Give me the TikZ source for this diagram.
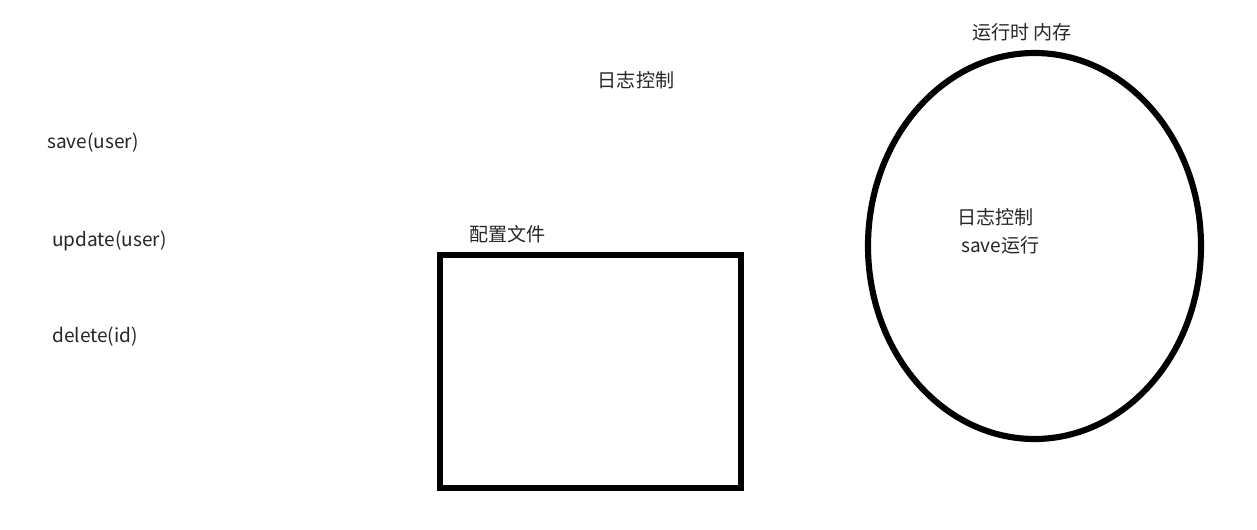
\documentclass[tikz,border=0pt]{standalone}
\usepackage{fontspec}
\setmainfont{Noto Sans CJK SC}
\usetikzlibrary{shapes.geometric}
\begin{document}
\begin{tikzpicture}[x=0.75pt,y=-0.75pt,
  lbl/.style={inner sep=0pt,font=\fontsize{14.3pt}{17pt}\selectfont,text=black!85},
  thick line/.style={line width=4.6pt,draw=black,inner sep=0pt,outer sep=0pt}]
\useasboundingbox[fill=white] (0,0) rectangle (1257,530);
\node[lbl] (log) at (636,80) {日志控制};
\node[lbl] (mem) at (1022,32) {运行时 内存};
\node[lbl,anchor=west] (save) at (47,143) {save(user)};
\node[lbl,anchor=west] (update) at (52,241) {update(user)};
\node[lbl,anchor=west] (delete) at (52,337) {delete(id)};
\node[lbl,anchor=west] (cfg) at (469,234) {配置文件};
\node[lbl,anchor=west] (inlog) at (957,217) {日志控制};
\node[lbl,anchor=west] (insave) at (961,245) {save运行};
\node[thick line,rectangle,minimum width=225.75pt,minimum height=174.75pt] (box) at (590.5,371.5) {};
\node[thick line,ellipse,minimum width=249.75pt,minimum height=289.5pt] (mem ellipse) at (1034.5,246) {};
\end{tikzpicture}
\end{document}
